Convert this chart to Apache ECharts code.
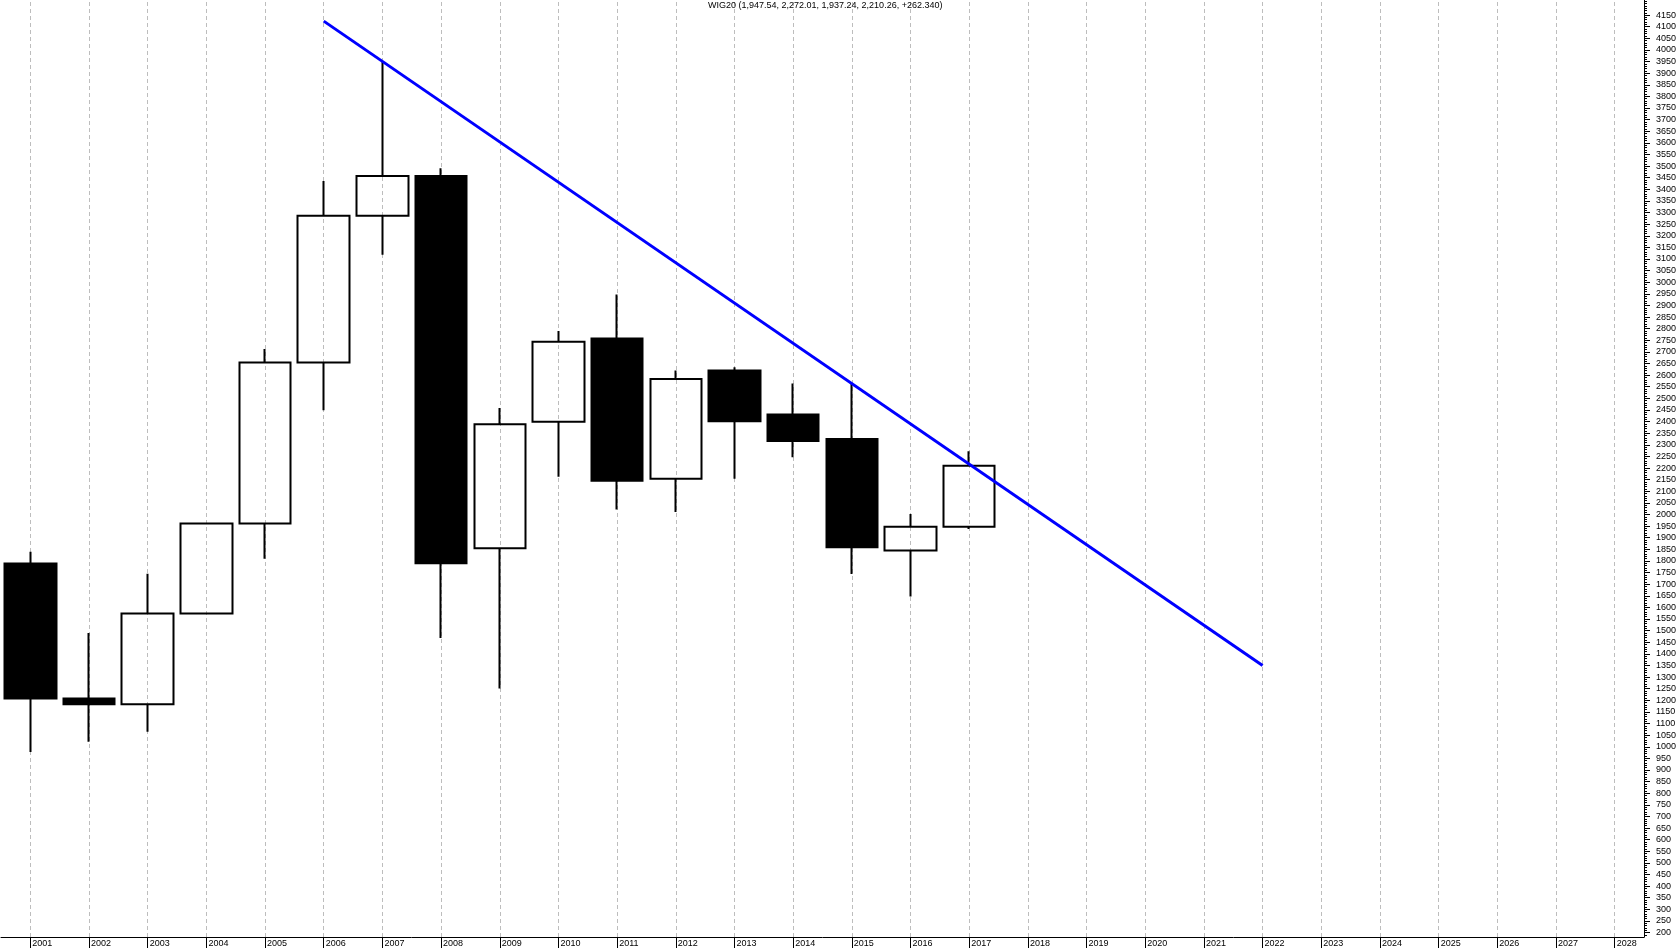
<!DOCTYPE html>
<html>
<head>
<meta charset="utf-8">
<script src="https://cdn.jsdelivr.net/npm/echarts@6/dist/echarts.min.js"></script>
<style>
html,body{margin:0;padding:0;background:#fff;}
#chart{width:1680px;height:948px;}
</style>
</head>
<body>
<div id="chart"></div>
<script>
// ---- data ----
const years = ['2001','2002','2003','2004','2005','2006','2007','2008','2009','2010','2011','2012','2013','2014',
  '2015','2016','2017','2018','2019','2020','2021','2022','2023','2024','2025','2026','2027','2028'];
const candleYears = ['2001','2002','2003','2004','2005','2006','2007','2008','2009','2010','2011','2012','2013','2014','2015','2016','2017'];
const opens  = [1789, 1208, 1183, 1574, 1961, 2654, 3286, 3457, 1855, 2399, 2758, 2154, 2620, 2431, 2325, 1845, 1947.54];
const closes = [1208, 1183, 1574, 1961, 2654, 3286, 3457, 1790, 2389, 2744, 2145, 2583, 2401, 2316, 1859, 1947.54, 2210.26];
const lows   = [978, 1022, 1065, 1574, 1809, 2449, 3118, 1468, 1251, 2163, 2021, 2011, 2154, 2246, 1744, 1647, 1937.24];
const highs  = [1840, 1490, 1745, 1961, 2712, 3436, 3952, 3491, 2458, 2790, 2947, 2620, 2634, 2564, 2564, 2002, 2272.01];
const trendYears = ['2006', '2022'];
const trendValues = [4124, 1350];
const titleText = 'WIG20 (1,947.54, 2,272.01, 1,937.24, 2,210.26, +262.340)';
const yLabelFirst = 200, yLabelLast = 4150, yLabelStep = 50, yMinorStep = 10;

const majorTicks = [];
for (let v = yLabelFirst; v <= yLabelLast; v += yLabelStep) majorTicks.push(v);
const minorTicks = [];
for (let v = 190; v <= 4210; v += yMinorStep) minorTicks.push(v);

const font = '"Liberation Sans", Arial, sans-serif';
const candleData = candleYears.map((y, i) => [opens[i], closes[i], lows[i], highs[i]]);

const chart = echarts.init(document.getElementById('chart'), null, {renderer: 'canvas'});
chart.setOption({
  animation: false,
  backgroundColor: '#ffffff',
  textStyle: {fontFamily: font},
  title: {
    text: titleText, left: 708, top: 1, padding: 0,
    textStyle: {fontSize: 9, fontWeight: 'normal', color: '#000', fontFamily: font}
  },
  grid: {left: 1, right: 36, top: 0, bottom: 11, containLabel: false, outerBoundsMode: 'none'},
  xAxis: {
    type: 'category', data: years, boundaryGap: true,
    axisLine: {show: true, lineStyle: {color: '#000', width: 1}},
    axisTick: {show: true, alignWithLabel: true, length: 11, lineStyle: {color: '#000', width: 1}},
    axisLabel: {interval: 0, align: 'left', verticalAlign: 'top', margin: 2, padding: [0, 0, 0, 2],
      fontSize: 9, color: '#000', fontFamily: font},
    splitLine: {show: false}
  },
  yAxis: [{
    type: 'value', position: 'right', min: 181, max: 4215, scale: true,
    axisLine: {show: true, lineStyle: {color: '#000', width: 1}},
    axisTick: {show: true, length: 6, customValues: majorTicks, lineStyle: {color: '#000', width: 1}},
    axisLabel: {customValues: majorTicks, margin: 12, fontSize: 9, color: '#000', fontFamily: font,
      formatter: v => String(Math.round(v))},
    splitLine: {show: false}
  }, {
    type: 'value', position: 'right', min: 181, max: 4215, scale: true,
    axisLine: {show: false},
    axisTick: {show: true, length: 3, customValues: minorTicks, lineStyle: {color: '#000', width: 1}},
    axisLabel: {show: false},
    splitLine: {show: false}
  }],
  series: [{
    type: 'line', data: [], z: 0, silent: true, yAxisIndex: 0,
    markLine: {
      z: 0, silent: true, symbol: ['none', 'none'], label: {show: false}, animation: false,
      lineStyle: {color: '#bdbdbd', type: [4, 3], width: 1},
      emphasis: {disabled: true},
      data: years.map(y => ({xAxis: y}))
    }
  }, {
    type: 'candlestick', z: 3, silent: true, barWidth: 52,
    data: candleData,
    itemStyle: {
      color: 'rgba(255,255,255,0)', color0: '#000',
      borderColor: '#000', borderColor0: '#000', borderColorDoji: '#000', borderWidth: 2
    }
  }, {
    type: 'line', z: 4, silent: true, symbol: 'none',
    data: trendYears.map((y, i) => [y, trendValues[i]]),
    lineStyle: {color: '#0000ff', width: 3}
  }]
});
</script>
</body>
</html>
